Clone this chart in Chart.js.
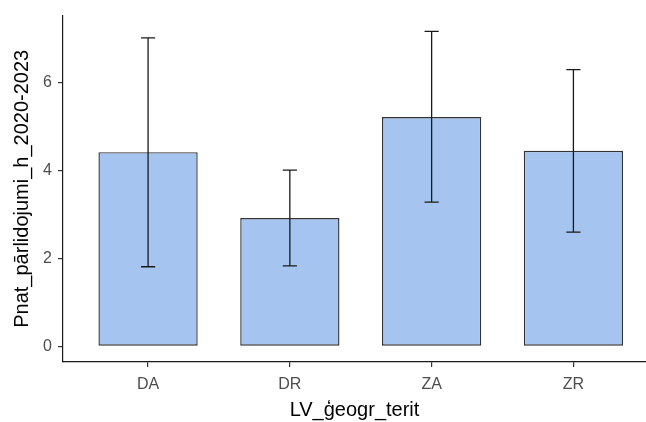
<!DOCTYPE html>
<html>
<head>
<meta charset="utf-8">
<script src="https://cdn.jsdelivr.net/npm/chart.js@4/dist/chart.umd.min.js"></script>
<style>
  html, body { margin: 0; padding: 0; background: #ffffff; }
  #wrap { width: 646px; height: 422px; position: relative; }
</style>
</head>
<body>
<div id="wrap"><canvas id="c" width="646" height="422"></canvas></div>
<script>
// ---- data ----
const categories = ["DA", "DR", "ZA", "ZR"];
const means = [4.42, 2.92, 5.22, 4.45];
const errLow = [1.81, 1.83, 3.28, 2.60];
const errHigh = [7.02, 4.01, 7.17, 6.30];
const yTicks = [0, 2, 4, 6];
const xTitle = "LV_ģeogr_terit";
const yTitle = "Pnat_pārlidojumi_h_2020-2023";

const barData = categories.map((c, i) => ({ x: i, y: means[i] }));

const errorBarPlugin = {
  id: 'errorBars',
  afterDatasetsDraw(chart) {
    const xs = chart.scales.x, ys = chart.scales.y;
    const ctx = chart.ctx;
    ctx.save();
    ctx.strokeStyle = '#1a1a1a';
    ctx.lineWidth = 1.3;
    categories.forEach((c, i) => {
      const cx = xs.getPixelForValue(i);
      const xl = xs.getPixelForValue(i - 0.05);
      const xr = xs.getPixelForValue(i + 0.05);
      const yl = ys.getPixelForValue(errLow[i]);
      const yh = ys.getPixelForValue(errHigh[i]);
      ctx.beginPath();
      ctx.moveTo(cx, yl); ctx.lineTo(cx, yh);
      ctx.moveTo(xl, yl); ctx.lineTo(xr, yl);
      ctx.moveTo(xl, yh); ctx.lineTo(xr, yh);
      ctx.stroke();
    });
    ctx.restore();
  }
};

new Chart(document.getElementById('c'), {
  type: 'bar',
  data: {
    datasets: [{
      data: barData,
      backgroundColor: '#A6C4F0',
      borderColor: '#333333',
      borderWidth: 1.4,
      borderSkipped: false,
      barPercentage: 0.7,
      categoryPercentage: 1.0
    }]
  },
  options: {
    responsive: false,
    animation: false,
    events: [],
    layout: { padding: { left: 0, top: 15, right: 0, bottom: 0 } },
    plugins: { legend: { display: false }, tooltip: { enabled: false } },
    scales: {
      x: {
        type: 'linear',
        offset: false,
        min: -0.6,
        max: 3.512,
        afterBuildTicks: (s) => { s.ticks = categories.map((c, i) => ({ value: i })); },
        afterFit: (s) => { s.height = 60; },
        ticks: {
          callback: (v) => categories[v] ?? '',
          color: '#4D4D4D',
          font: { family: 'Liberation Sans', size: 16 },
          padding: 8,
          maxRotation: 0,
          autoSkip: false
        },
        grid: { offset: false, drawOnChartArea: false, drawTicks: true, tickLength: 5, color: '#333333', lineWidth: 1.2 },
        border: { display: true, color: '#1a1a1a', width: 1.2 },
        title: {
          display: true, text: xTitle, color: '#000000',
          font: { family: 'Liberation Sans', size: 20 },
          padding: { top: 0, bottom: 0 }
        }
      },
      y: {
        type: 'linear',
        min: -0.3585,
        max: 7.5285,
        afterBuildTicks: (s) => { s.ticks = yTicks.map(v => ({ value: v })); },
        afterFit: (s) => { s.width = 63; },
        ticks: {
          color: '#4D4D4D',
          font: { family: 'Liberation Sans', size: 16 },
          padding: 6
        },
        grid: { drawOnChartArea: false, drawTicks: true, tickLength: 5, color: '#333333', lineWidth: 1.2 },
        border: { display: true, color: '#1a1a1a', width: 1.2 },
        title: {
          display: true, text: yTitle, color: '#000000',
          font: { family: 'Liberation Sans', size: 20 },
          padding: { top: 10, bottom: 0 }
        }
      }
    }
  },
  plugins: [errorBarPlugin]
});
</script>
</body>
</html>
